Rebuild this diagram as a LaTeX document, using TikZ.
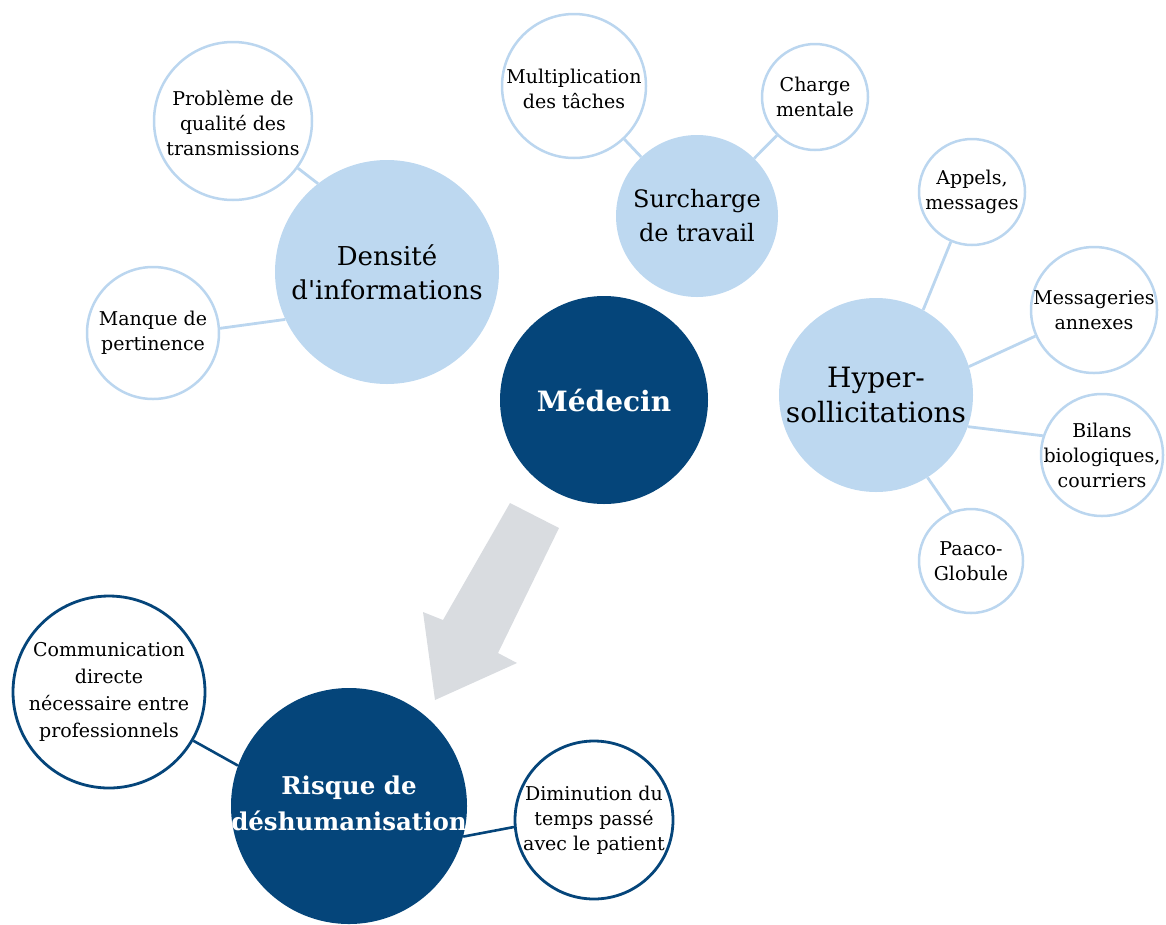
\documentclass[tikz,border=0pt]{standalone}
\usepackage{fontspec}
\setmainfont{DejaVu Serif}
\definecolor{lb}{HTML}{BDD8F0}
\definecolor{lbline}{HTML}{BBD6EF}
\definecolor{db}{HTML}{05457A}
\definecolor{arrowgray}{HTML}{D9DCE0}
\pgfdeclarelayer{bg}
\pgfsetlayers{bg,main}
\tikzset{
  bigc/.style={circle, fill=lb, inner sep=0pt},
  smallc/.style={circle, draw=lbline, line width=2.5pt, fill=white, inner sep=0pt},
  darkc/.style={circle, fill=db, inner sep=0pt},
  darksmall/.style={circle, draw=db, line width=2.8pt, fill=white, inner sep=0pt},
  lbedge/.style={draw=lbline, line width=2.8pt},
  dbedge/.style={draw=db, line width=2.6pt},
  smalltxt/.style={align=center, font=\fontsize{19}{25}\selectfont, text=black, inner sep=0pt},
  midtxt/.style={align=center, text=black, inner sep=0pt},
  boldtxt/.style={align=center, text=white, inner sep=0pt},
}
\begin{document}
\begin{tikzpicture}[x=1pt,y=-1pt]
\useasboundingbox (0,0) rectangle (1166,924);
\clip (0,0) rectangle (1166,924);

% gray arrow
\fill[arrowgray] (510,503) -- (559,528) -- (498,653) -- (517,663) -- (435,700) -- (423,612) -- (443,620) -- cycle;

% circles
\node[bigc, minimum size=224pt] (dens) at (387,272) {};
\node[smallc, minimum size=158pt] (prob) at (233,121) {};
\node[smallc, minimum size=132pt] (manq) at (153,333) {};
\node[bigc, minimum size=162pt] (surch) at (697,216) {};
\node[smallc, minimum size=144pt] (mult) at (574,86) {};
\node[smallc, minimum size=106pt] (charg) at (815,97) {};
\node[darkc, minimum size=208pt] (med) at (604,400) {};
\node[bigc, minimum size=194pt] (hyper) at (876,395) {};
\node[smallc, minimum size=106pt] (appel) at (972,192) {};
\node[smallc, minimum size=126pt] (messa) at (1094,310) {};
\node[smallc, minimum size=122pt] (bilan) at (1102,455) {};
\node[smallc, minimum size=104pt] (paaco) at (971,561) {};
\node[darkc, minimum size=236pt] (risq) at (349,806) {};
\node[darksmall, minimum size=192pt] (comm) at (109,692) {};
\node[darksmall, minimum size=158pt] (dimin) at (594,820) {};

% texts
\node[midtxt, font=\fontsize{26}{34}\selectfont] (dens-t) at (dens.center) {Densité\\d\textquotesingle informations};
\node[smalltxt] (prob-t) at ([yshift=-2pt]prob.center) {Problème de\\qualité des\\transmissions};
\node[smalltxt] (manq-t) at (manq.center) {Manque de\\pertinence};
\node[midtxt, font=\fontsize{24}{34}\selectfont] (surch-t) at (surch.center) {Surcharge\\de travail};
\node[smalltxt] (mult-t) at ([yshift=-3pt]mult.center) {Multiplication\\des tâches};
\node[smalltxt] (charg-t) at (charg.center) {Charge\\mentale};
\node[boldtxt, font=\bfseries\fontsize{28}{36}\selectfont] (med-t) at (med.center) {Médecin};
\node[midtxt, font=\fontsize{28}{35}\selectfont] (hyper-t) at (hyper.center) {Hyper-\\sollicitations};
\node[smalltxt] (appel-t) at (appel.center) {Appels,\\messages};
\node[smalltxt] (messa-t) at (messa.center) {Messageries\\annexes};
\node[smalltxt] (bilan-t) at (bilan.center) {Bilans\\biologiques,\\courriers};
\node[smalltxt] (paaco-t) at (paaco.center) {Paaco-\\Globule};
\node[boldtxt, font=\bfseries\fontsize{24.5}{36}\selectfont] (risq-t) at ([yshift=3pt]risq.center) {Risque de\\déshumanisation};
\node[smalltxt, font=\fontsize{19}{27}\selectfont] (comm-t) at (comm.center) {Communication\\directe\\nécessaire entre\\professionnels};
\node[smalltxt] (dimin-t) at (dimin.center) {Diminution du\\temps passé\\avec le patient};

% connectors
\begin{pgfonlayer}{bg}
\draw[lbedge] (prob.-36) -- (dens.128);
\draw[lbedge] (manq.4) -- (dens.205);
\draw[lbedge] (surch) -- (mult);
\draw[lbedge] (surch) -- (charg);
\draw[lbedge] (hyper.61) -- (appel.247);
\draw[lbedge] (hyper.17) -- (messa.204);
\draw[lbedge] (hyper.-19) -- (bilan.162);
\draw[lbedge] (hyper.-58) -- (paaco.112);
\draw[dbedge] (comm.-30) -- (risq.160);
\draw[dbedge] (risq.-15) -- (dimin.185);
\end{pgfonlayer}
\end{tikzpicture}
\end{document}
